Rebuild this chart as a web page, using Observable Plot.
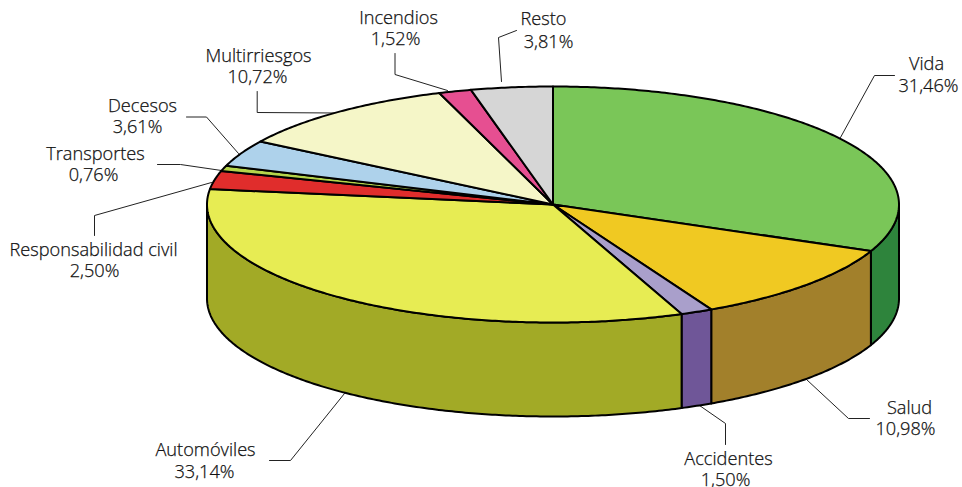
<!DOCTYPE html>
<html><head><meta charset="utf-8">
<script src="https://cdn.jsdelivr.net/npm/d3@7"></script>
<script src="https://cdn.jsdelivr.net/npm/@observablehq/plot@0.6"></script>
<style>html,body{margin:0;padding:0;background:#fff}svg{display:block}</style>
</head><body><div id="chart"></div>
<script>
const categories = ["Vida","Salud","Accidentes","Automóviles","Responsabilidad civil","Transportes","Decesos","Multirriesgos","Incendios","Resto"];
const shares = [31.46,10.98,1.50,33.14,2.50,0.76,3.61,10.72,1.52,3.81];
const topColors = ["#7ac658","#f0c922","#a99fcb","#e7ec53","#e02d2c","#b5d44b","#aed2eb","#f5f6c8","#e64f91","#d6d6d6"];
const sideColors = ["#2e843c","#a2802b","#6f5698","#a2aa26","#a01f20","#7d9430","#7d96a8","#aeae8c","#a33868","#999999"];
const nameX = [926,909,728,205,93,95,142,258,398,543];
const nameY = [64,408,459,450,250,154,106,56,18,19];
const valueX = [928,905,725,204,94,93,137,257,395,548];
const valueY = [86,429,480,472,271,175,127,77,39,42];
const leaders = [
  [[894,75],[874,75],[840,137]],
  [[869,418],[848,418],[806,379]],
  [[725,444],[725,423],[699,405]],
  [[269,460],[290,460],[344,393]],
  [[94,235],[94,215],[211,182]],
  [[157,164],[180,164],[221,170]],
  [[186,116.5],[206,116.5],[238,153]],
  [[256.7,91],[256.7,112],[335,112.5]],
  [[394.5,53],[394.5,74],[447,90]],
  [[516,30],[498,37],[501,81]]
];
const cx = 552.5, cy = 204, rx = 346, ry = 118, depth = 94;
const pt = (a, dy = 0) => ({x: cx + rx*Math.sin(a), y: cy - ry*Math.cos(a) + dy});
const arcPts = (a0, a1, dy = 0) => {
  const n = Math.max(2, Math.ceil(Math.abs(a1-a0)/0.01));
  return d3.range(n+1).map(i => pt(a0 + (a1-a0)*i/n, dy));
};
const total = d3.sum(shares);
let cum = 0;
const slices = shares.map((v,i) => {
  const a0 = cum/total*2*Math.PI; cum += v;
  return {name: categories[i], i, a0, a1: cum/total*2*Math.PI};
});
const poly = [];
const add = (id, pts, fill) => pts.forEach(p => poly.push({...p, id, fill}));
const lo = Math.PI/2, hi = 3*Math.PI/2;
slices.forEach(s => {
  const a0 = Math.max(s.a0, lo), a1 = Math.min(s.a1, hi);
  if (a1 > a0) add("side"+s.i, [...arcPts(a0,a1), ...arcPts(a1,a0,depth)], sideColors[s.i]);
});
slices.forEach(s => add("top"+s.i, [{x:cx,y:cy}, ...arcPts(s.a0,s.a1)], topColors[s.i]));
const leaderRows = leaders.flatMap((l,i) => l.map(([x,y]) => ({x,y,i})));
const nameRows = categories.map((c,i) => ({x:nameX[i], y:nameY[i], text:c}));
const valueRows = shares.map((v,i) => ({x:valueX[i], y:valueY[i], text:v.toFixed(2).replace(".",",")+"%"}));
const ids = [...new Set(poly.map(d => d.id))];
const textStyle = {x:"x", y:"y", text:"text", fontSize:18.2, fontWeight:300, fill:"#111", stroke:"#111", strokeWidth:0.25, textAnchor:"middle", fontFamily:"'Open Sans', sans-serif"};
const plot = Plot.plot({
  width: 962, height: 487, margin: 0,
  x: {domain:[0,962], range:[0,962], axis:null},
  y: {domain:[0,487], range:[0,487], axis:null},
  marks: [
    Plot.line(leaderRows, {x:"x", y:"y", z:"i", stroke:"#222", strokeWidth:1, curve:"linear"}),
    ...ids.map(id => {
      const rows = poly.filter(d => d.id === id);
      return Plot.line(rows, {x:"x", y:"y", fill: rows[0].fill, stroke:"#000", strokeWidth:2, strokeLinejoin:"round", curve:"linear-closed"});
    }),
    Plot.text(nameRows, textStyle),
    Plot.text(valueRows, textStyle)
  ],
  style: {background:"#fff"}
});
document.getElementById("chart").append(plot);
</script></body></html>
